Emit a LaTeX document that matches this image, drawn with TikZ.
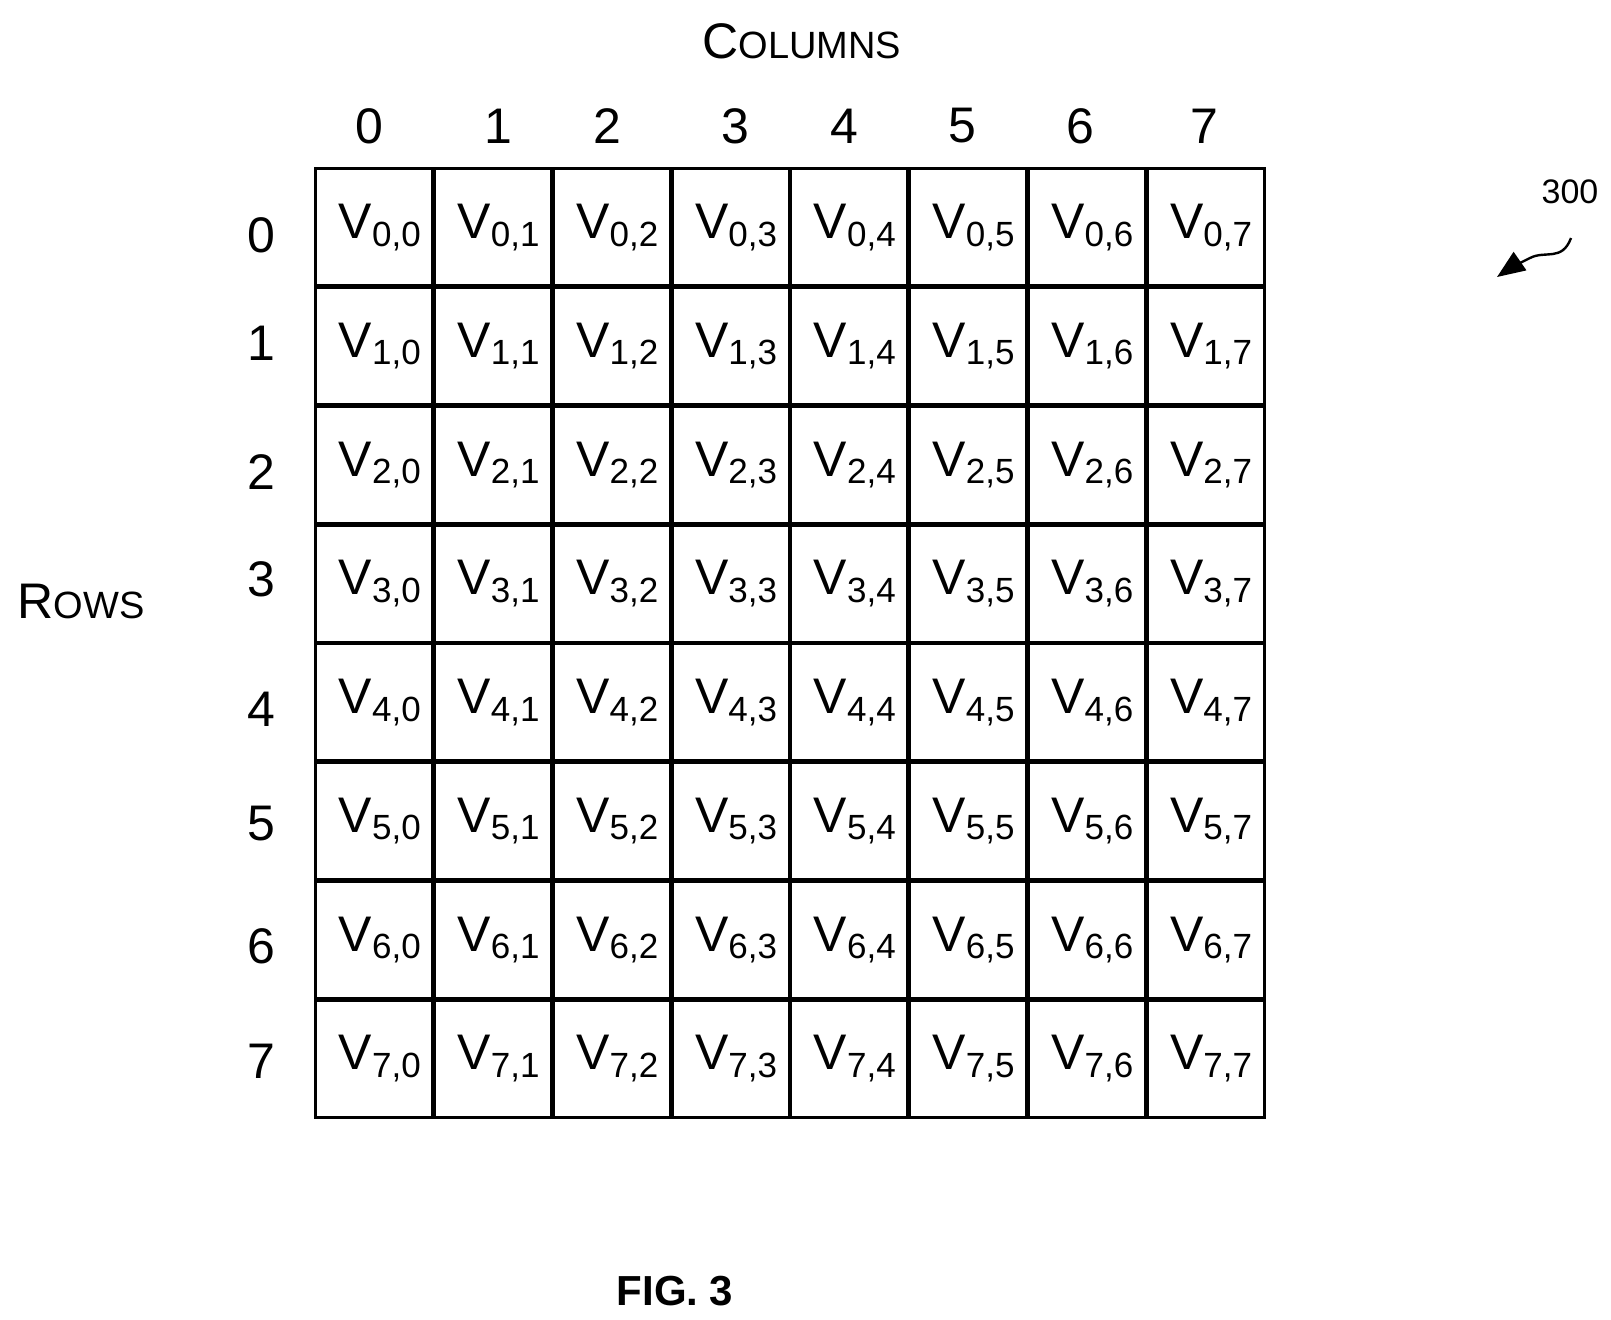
\documentclass[tikz,border=0pt]{standalone}
\usepackage{fontspec}
\setmainfont{Liberation Sans}
\usetikzlibrary{arrows.meta}
\begin{document}
\begin{tikzpicture}[x=0.5pt,y=-0.5pt,
  cell/.style={draw,line width=1.5pt,minimum width=58.6pt,minimum height=58.6pt,inner sep=0pt,font=\fontsize{25}{28}\selectfont},
  lab/.style={font=\fontsize{25}{28}\selectfont}]
\useasboundingbox (0,0) rectangle (1611,1319);
\foreach \r in {0,...,7}{
  \foreach \c in {0,...,7}{
    \node[cell] (c-\r-\c) at ({315+118.75*(\c+0.5)},{168+118.75*(\r+0.5)}) {\hspace{6pt}\raisebox{-5pt}{V\textsubscript{\r,\c}}};
  }}
\foreach \c/\x in {0/369,1/498,2/607,3/735,4/844,5/962,6/1080,7/1204}
  \node[lab] (col\c) at (\x,126) {\c};
\foreach \r/\y in {0/235,1/343,2/472,3/579,4/709,5/824,6/946,7/1061}
  \node[lab] (row\r) at (261,\y) {\r};
\node (columns) at (802,41) {{\fontsize{25}{28}\selectfont C}{\fontsize{19}{22}\selectfont OLUMNS}};
\node (rows) at (81,601) {{\fontsize{25}{28}\selectfont R}{\fontsize{19}{22}\selectfont OWS}};
\node (fig) at (675,1291) {\fontsize{21}{26}\selectfont\bfseries FIG. 3};
\node (ref) at (1570,192) {\fontsize{17}{20}\selectfont 300};
\coordinate (a0) at (1571,238);
\coordinate (a1) at (1497,277);
\draw[line width=1.2pt,-{Triangle[length=14pt,width=11pt]}] (a0) .. controls (1562,262) and (1545,250) .. (1530,258) .. controls (1518,264) and (1510,268) .. (a1);
\end{tikzpicture}
\end{document}
